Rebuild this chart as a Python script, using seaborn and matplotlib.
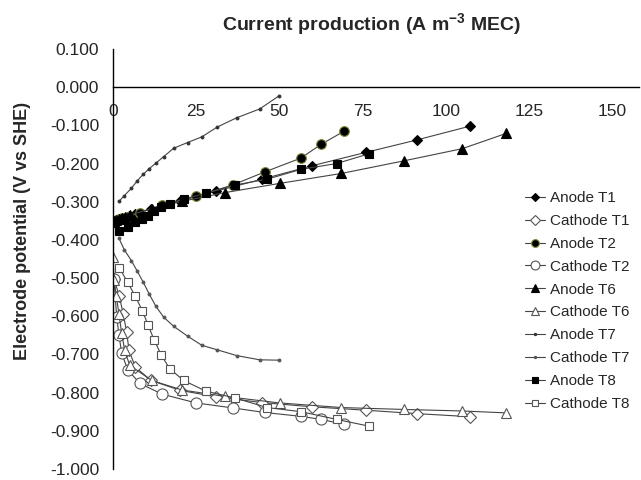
import numpy as np
import pandas as pd
import matplotlib
matplotlib.use("Agg")
import matplotlib.pyplot as plt
import seaborn as sns

# corriente (A m-3 MEC) y potenciales (V vs SHE)
x_t1 = [0.3, 1.9, 3.1, 4.1, 4.8, 6.7, 11.4, 20.2, 31.0, 44.8, 59.7, 75.9, 91.4, 107.3]
anode_t1 = [-0.350, -0.347, -0.344, -0.341, -0.338, -0.333, -0.318, -0.298, -0.272, -0.241, -0.206, -0.171, -0.138, -0.102]
cathode_t1 = [-0.502, -0.548, -0.595, -0.641, -0.689, -0.733, -0.768, -0.794, -0.811, -0.826, -0.837, -0.846, -0.855, -0.863]

x_t2 = [0.3, 1.1, 1.8, 2.6, 4.4, 8.1, 14.8, 25.0, 36.0, 45.6, 56.4, 62.5, 69.5]
anode_t2 = [-0.350, -0.348, -0.345, -0.342, -0.339, -0.329, -0.308, -0.286, -0.256, -0.222, -0.186, -0.150, -0.115]
cathode_t2 = [-0.502, -0.601, -0.650, -0.696, -0.740, -0.776, -0.804, -0.827, -0.840, -0.852, -0.862, -0.870, -0.883]

x_t6 = [0.0, 0.3, 1.0, 1.8, 2.6, 3.5, 5.0, 11.6, 20.7, 33.7, 50.1, 68.6, 87.4, 105.0, 118.2]
anode_t6 = [-0.352, -0.350, -0.348, -0.346, -0.343, -0.340, -0.335, -0.318, -0.299, -0.276, -0.252, -0.226, -0.193, -0.161, -0.121]
cathode_t6 = [-0.445, -0.504, -0.548, -0.595, -0.644, -0.689, -0.728, -0.768, -0.793, -0.810, -0.827, -0.839, -0.844, -0.848, -0.853]

x_t7 = [1.8, 3.4, 5.5, 7.3, 9.1, 10.9, 12.9, 15.2, 18.2, 22.4, 26.7, 31.4, 37.2, 44.1, 50.0]
anode_t7 = [-0.299, -0.284, -0.265, -0.245, -0.228, -0.213, -0.199, -0.182, -0.160, -0.145, -0.130, -0.104, -0.080, -0.057, -0.022]
cathode_t7 = [-0.396, -0.426, -0.454, -0.482, -0.511, -0.542, -0.574, -0.602, -0.626, -0.652, -0.676, -0.688, -0.703, -0.714, -0.715]

x_t8 = [1.9, 4.4, 6.6, 8.8, 10.6, 12.4, 14.5, 17.0, 21.2, 27.9, 36.7, 46.3, 56.6, 67.2, 77.1]
anode_t8 = [-0.376, -0.365, -0.354, -0.344, -0.337, -0.324, -0.315, -0.305, -0.293, -0.278, -0.256, -0.241, -0.215, -0.200, -0.174]
cathode_t8 = [-0.473, -0.511, -0.546, -0.585, -0.624, -0.663, -0.701, -0.737, -0.768, -0.796, -0.814, -0.839, -0.850, -0.870, -0.888]

y_ticks = [0.1, 0.0, -0.1, -0.2, -0.3, -0.4, -0.5, -0.6, -0.7, -0.8, -0.9, -1.0]
x_ticks = [0, 25, 50, 75, 100, 125, 150]

series = [
    ("Anode T1", x_t1, anode_t1),
    ("Cathode T1", x_t1, cathode_t1),
    ("Anode T2", x_t2, anode_t2),
    ("Cathode T2", x_t2, cathode_t2),
    ("Anode T6", x_t6, anode_t6),
    ("Cathode T6", x_t6, cathode_t6),
    ("Anode T7", x_t7, anode_t7),
    ("Cathode T7", x_t7, cathode_t7),
    ("Anode T8", x_t8, anode_t8),
    ("Cathode T8", x_t8, cathode_t8),
]

# estilo de marcador por serie
estilos = {
    "Anode T1": dict(marker="D", markersize=5, markerfacecolor="black", markeredgecolor="black"),
    "Cathode T1": dict(marker="D", markersize=6, markerfacecolor="white", markeredgecolor="#555555"),
    "Anode T2": dict(marker="o", markersize=7, markerfacecolor="black", markeredgecolor="#7f8a3a"),
    "Cathode T2": dict(marker="o", markersize=8, markerfacecolor="white", markeredgecolor="#555555"),
    "Anode T6": dict(marker="^", markersize=7, markerfacecolor="black", markeredgecolor="black"),
    "Cathode T6": dict(marker="^", markersize=7, markerfacecolor="white", markeredgecolor="#555555"),
    "Anode T7": dict(marker="o", markersize=2, markerfacecolor="#333333", markeredgecolor="#333333"),
    "Cathode T7": dict(marker="o", markersize=2, markerfacecolor="#555555", markeredgecolor="#555555"),
    "Anode T8": dict(marker="s", markersize=6, markerfacecolor="black", markeredgecolor="black"),
    "Cathode T8": dict(marker="s", markersize=6, markerfacecolor="white", markeredgecolor="#555555"),
}

sns.set_style("white")
plt.rcParams["font.family"] = ["Liberation Sans", "DejaVu Sans"]
plt.rcParams["mathtext.fontset"] = "custom"
plt.rcParams["mathtext.bf"] = "Liberation Sans:bold"
plt.rcParams["mathtext.rm"] = "Liberation Sans"

fig = plt.figure(figsize=(6.41, 4.80), dpi=100)
ax = fig.add_axes([0.1763, 0.0229, 0.8200, 0.8750])

for nombre, xs, ys in series:
    df = pd.DataFrame({"x": xs, "y": ys})
    sns.lineplot(data=df, x="x", y="y", ax=ax, label=nombre, sort=False, estimator=None,
                 color="#444444", linewidth=0.8, markeredgewidth=0.8, **estilos[nombre])

ax.set_xlim(0, 158)
ax.set_ylim(-1.0, 0.1)
ax.set_xticks(x_ticks)
ax.set_yticks(y_ticks)
ax.yaxis.set_major_formatter(matplotlib.ticker.FormatStrFormatter("%.3f"))
ax.set_xlabel("")
ax.set_ylabel("")

ax.spines["top"].set_visible(False)
ax.spines["right"].set_visible(False)
ax.spines["bottom"].set_position(("data", 0))
ax.spines["left"].set_color("black")
ax.spines["bottom"].set_color("black")
ax.spines["left"].set_linewidth(1.0)
ax.spines["bottom"].set_linewidth(1.0)
ax.tick_params(axis="both", direction="out", length=4, width=0.8, color="black", labelsize=12.5)
ax.tick_params(axis="x", pad=8)
ax.tick_params(axis="y", pad=6)

ax.legend(loc="center left", bbox_to_anchor=(0.77, 0.40), frameon=False, fontsize=11,
          borderpad=0, handlelength=1.3, handletextpad=0.3, labelspacing=0.58, markerscale=0.8)

fig.text(371 / 641, 1 - 25 / 480, r"Current production (A m$^{\mathbf{-3}}$ MEC)",
         ha="center", va="center", fontsize=14, fontweight="bold")
fig.text(22.5 / 641, 0.519, "Electrode potential (V vs SHE)", rotation=90,
         ha="center", va="center", fontsize=13, fontweight="bold")

fig.savefig("out.png", dpi=100)
